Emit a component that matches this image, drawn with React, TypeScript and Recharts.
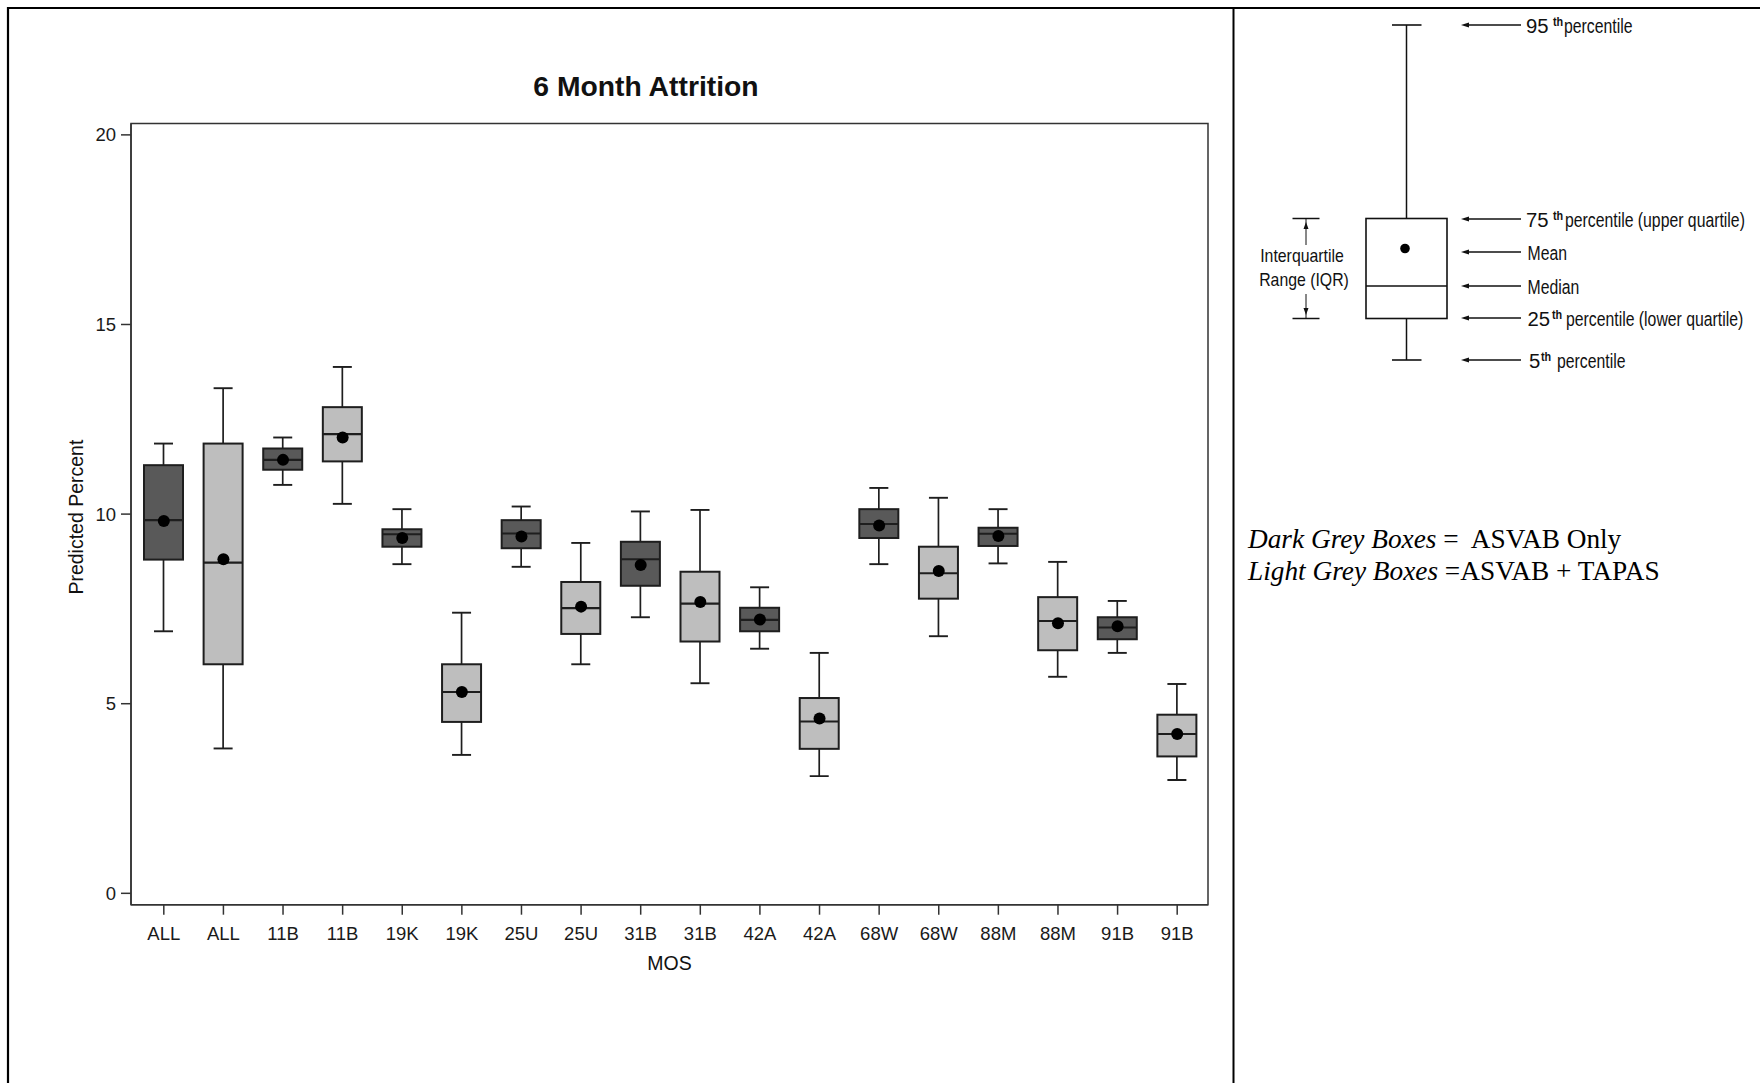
import React from 'react';
import { ComposedChart, Bar, Scatter, XAxis, YAxis, ReferenceArea } from 'recharts';

// MOS categories: each MOS appears twice (ASVAB only, then ASVAB + TAPAS)
const mosCodes = ['ALL', 'ALL', '11B', '11B', '19K', '19K', '25U', '25U', '31B', '31B', '42A', '42A', '68W', '68W', '88M', '88M', '91B', '91B'];
const scoreSets = ['ASVAB', 'TAPAS', 'ASVAB', 'TAPAS', 'ASVAB', 'TAPAS', 'ASVAB', 'TAPAS', 'ASVAB', 'TAPAS', 'ASVAB', 'TAPAS', 'ASVAB', 'TAPAS', 'ASVAB', 'TAPAS', 'ASVAB', 'TAPAS'];

// Predicted 6-month attrition percent distribution
const p5Values = [6.91, 3.82, 10.77, 10.27, 8.68, 3.65, 8.61, 6.04, 7.28, 5.54, 6.45, 3.09, 8.68, 6.78, 8.70, 5.71, 6.34, 2.99];
const q1Values = [8.80, 6.04, 11.17, 11.39, 9.14, 4.52, 9.10, 6.84, 8.11, 6.64, 6.91, 3.81, 9.37, 7.77, 9.16, 6.41, 6.70, 3.61];
const medianValues = [9.84, 8.72, 11.43, 12.11, 9.47, 5.31, 9.49, 7.52, 8.81, 7.64, 7.21, 4.53, 9.74, 8.44, 9.48, 7.18, 7.01, 4.20];
const q3Values = [11.29, 11.86, 11.73, 12.82, 9.60, 6.04, 9.84, 8.21, 9.27, 8.48, 7.53, 5.15, 10.13, 9.14, 9.64, 7.81, 7.28, 4.71];
const p95Values = [11.86, 13.32, 12.02, 13.88, 10.13, 7.40, 10.20, 9.24, 10.07, 10.11, 8.07, 6.34, 10.69, 10.43, 10.13, 8.74, 7.71, 5.52];
const meanValues = [9.82, 8.81, 11.43, 12.02, 9.37, 5.31, 9.41, 7.56, 8.66, 7.68, 7.22, 4.61, 9.70, 8.50, 9.42, 7.12, 7.04, 4.20];

const yTicks = [0, 5, 10, 15, 20];
const yDomain: [number, number] = [-0.3, 20.3];

const DARK_FILL = '#595959';
const LIGHT_FILL = '#bebebe';
const INK = '#1e1e1e';
const AXIS = '#333333';
const SANS = 'Liberation Sans, Arial, Helvetica, sans-serif';
const SERIF = 'Liberation Serif, Times New Roman, serif';

const rows = mosCodes.map((code, i) => ({
  key: `${code}-${scoreSets[i]}`,
  code,
  set: scoreSets[i],
  p5: p5Values[i],
  q1: q1Values[i],
  median: medianValues[i],
  q3: q3Values[i],
  p95: p95Values[i],
  mean: meanValues[i],
  whisker: [p5Values[i], p95Values[i]],
}));

// Whiskers, box and median of one distribution; the bar's own extent spans p5..p95
function BoxShape(props: any) {
  const { x, y, width, height, payload } = props;
  if (!payload || x == null || y == null) return null;
  const top = Math.min(y, y + height);
  const bottom = Math.max(y, y + height);
  const span = payload.p95 - payload.p5;
  const k = span > 0 ? (bottom - top) / span : 0;
  const toY = (v: number) => top + (payload.p95 - v) * k;
  const cx = x + width / 2;
  const cap = 19;
  const yQ3 = toY(payload.q3);
  const yQ1 = toY(payload.q1);
  const yMed = toY(payload.median);
  const fill = payload.set === 'ASVAB' ? DARK_FILL : LIGHT_FILL;
  return (
    <g>
      <line x1={cx} x2={cx} y1={top} y2={yQ3} stroke={INK} strokeWidth={1.7} />
      <line x1={cx} x2={cx} y1={yQ1} y2={bottom} stroke={INK} strokeWidth={1.7} />
      <line x1={cx - cap / 2} x2={cx + cap / 2} y1={top} y2={top} stroke={INK} strokeWidth={1.9} />
      <line x1={cx - cap / 2} x2={cx + cap / 2} y1={bottom} y2={bottom} stroke={INK} strokeWidth={1.9} />
      <rect x={x} y={yQ3} width={width} height={Math.max(0, yQ1 - yQ3)} fill={fill} stroke={INK} strokeWidth={2} />
      <line x1={x} x2={x + width} y1={yMed} y2={yMed} stroke={INK} strokeWidth={2.1} />
    </g>
  );
}

function MeanDot(props: any) {
  const { cx, cy } = props;
  if (cx == null || cy == null) return null;
  return <circle cx={cx} cy={cy} r={6} fill="#000" />;
}

function YTitle(props: any) {
  const vb = props.viewBox || {};
  const x = (vb.x ?? 0) + 12;
  const y = (vb.y ?? 0) + (vb.height ?? 0) / 2 + 3;
  return (
    <text x={x} y={y} transform={`rotate(-90 ${x} ${y})`} textAnchor="middle" fontFamily={SANS} fontSize={19.5} fill="#111">
      Predicted Percent
    </text>
  );
}

function XTitle(props: any) {
  const vb = props.viewBox || {};
  const x = (vb.x ?? 0) + (vb.width ?? 0) / 2;
  const y = (vb.y ?? 0) + 65;
  return (
    <text x={x} y={y} textAnchor="middle" fontFamily={SANS} fontSize={19.5} fill="#111">
      MOS
    </text>
  );
}

// Narrow label text: a regular sans face squeezed horizontally
function NarrowText({ x, y, size = 19.5, squeeze = 0.81, anchor = 'start', weight = 'normal', children }: any) {
  return (
    <text
      transform={`translate(${x} ${y}) scale(${squeeze} 1)`}
      x={0}
      y={0}
      textAnchor={anchor}
      fontFamily={SANS}
      fontSize={size}
      fontWeight={weight}
      fill="#111"
    >
      {children}
    </text>
  );
}

// Explanatory key showing how a box plot is read
const keyRows = [
  { y: 25, num: '95', numX: 1526, thX: 1553, rest: 'percentile', restX: 1564 },
  { y: 219, num: '75', numX: 1526, thX: 1553, rest: 'percentile (upper quartile)', restX: 1565 },
  { y: 252, num: '', numX: 0, thX: 0, rest: 'Mean', restX: 1527.5 },
  { y: 286, num: '', numX: 0, thX: 0, rest: 'Median', restX: 1527.5 },
  { y: 318, num: '25', numX: 1527.5, thX: 1552, rest: 'percentile (lower quartile)', restX: 1566 },
  { y: 360, num: '5', numX: 1529, thX: 1541, rest: 'percentile', restX: 1557 },
];

function KeyPanel() {
  const wx = 1406.5;
  const boxL = 1366;
  const boxR = 1447;
  const boxT = 218.5;
  const boxB = 318.5;
  return (
    <g fill="#111" stroke="none">
      <line x1={wx} x2={wx} y1={25} y2={boxT} stroke="#111" strokeWidth={1.5} />
      <line x1={wx} x2={wx} y1={boxB} y2={360} stroke="#111" strokeWidth={1.5} />
      <line x1={1392} x2={1421.5} y1={25} y2={25} stroke="#111" strokeWidth={1.6} />
      <line x1={1392} x2={1421.5} y1={360} y2={360} stroke="#111" strokeWidth={1.6} />
      <rect x={boxL} y={boxT} width={boxR - boxL} height={boxB - boxT} fill="#fff" stroke="#111" strokeWidth={1.6} />
      <line x1={boxL} x2={boxR} y1={286} y2={286} stroke="#111" strokeWidth={1.5} />
      <circle cx={1405} cy={248.5} r={4.8} fill="#000" />

      {/* IQR bracket */}
      <line x1={1292.5} x2={1319.5} y1={boxT} y2={boxT} stroke="#111" strokeWidth={1.5} />
      <line x1={1292.5} x2={1319.5} y1={boxB} y2={boxB} stroke="#111" strokeWidth={1.5} />
      <line x1={1306} x2={1306} y1={boxT} y2={245} stroke="#111" strokeWidth={1} />
      <line x1={1306} x2={1306} y1={294} y2={boxB} stroke="#111" strokeWidth={1} />
      <polygon points="1306,222 1303.5,229 1308.5,229" fill="#111" />
      <polygon points="1306,315 1303.5,308 1308.5,308" fill="#111" />
      <NarrowText x={1302} y={262} size={18} squeeze={0.88} anchor="middle">Interquartile</NarrowText>
      <NarrowText x={1304} y={286} size={18} squeeze={0.88} anchor="middle">Range (IQR)</NarrowText>

      {keyRows.map((r) => (
        <g key={r.rest + r.y}>
          <line x1={1466} x2={1521} y1={r.y} y2={r.y} stroke="#111" strokeWidth={1.3} />
          <polygon points={`1461,${r.y} 1469,${r.y - 2.6} 1469,${r.y + 2.6}`} fill="#111" />
          {r.num ? (
            <>
              <NarrowText x={r.numX} y={r.y + 7.5} squeeze={1.04}>{r.num}</NarrowText>
              <NarrowText x={r.thX} y={r.y + 0.5} size={12} squeeze={0.9} weight="bold">th</NarrowText>
            </>
          ) : null}
          <NarrowText x={r.restX} y={r.y + 7.5}>{r.rest}</NarrowText>
        </g>
      ))}

      {/* Fill colour key */}
      <text x={1248} y={548} fontFamily={SERIF} fontSize={27.3} fill="#000" style={{ whiteSpace: 'pre' }}>
        <tspan fontStyle="italic">Dark Grey Boxes</tspan>
        <tspan>{' =  ASVAB Only'}</tspan>
      </text>
      <text x={1248} y={580} fontFamily={SERIF} fontSize={27.3} fill="#000" style={{ whiteSpace: 'pre' }}>
        <tspan fontStyle="italic">Light Grey Boxes</tspan>
        <tspan>{' =ASVAB + TAPAS'}</tspan>
      </text>
    </g>
  );
}

export default function App() {
  return (
    <div style={{ position: 'absolute', left: 0, top: 0, width: 1760, height: 1083, background: '#fff', overflow: 'hidden' }}>
      <svg width={1760} height={1083} style={{ position: 'absolute', left: 0, top: 0 }}>
        {/* page frame and panel divider */}
        <line x1={7} x2={1760} y1={8} y2={8} stroke="#000" strokeWidth={2.2} />
        <line x1={8} x2={8} y1={7} y2={1083} stroke="#000" strokeWidth={2.2} />
        <line x1={1233.5} x2={1233.5} y1={7} y2={1083} stroke="#000" strokeWidth={2} />
        <text x={646} y={96} textAnchor="middle" fontFamily={SANS} fontWeight="bold" fontSize={28.3} fill="#111">
          6 Month Attrition
        </text>
        <KeyPanel />
      </svg>
      <div style={{ position: 'absolute', left: 0, top: 0 }}>
        <ComposedChart
          width={1233}
          height={1083}
          data={rows}
          margin={{ top: 123.5, right: 25, bottom: 118.3, left: 71 }}
        >
          <XAxis
            dataKey="key"
            interval={0}
            height={60}
            padding={{ left: 3, right: 1 }}
            tickSize={10}
            tickMargin={12}
            tickLine={{ stroke: AXIS, strokeWidth: 1.5 }}
            axisLine={{ stroke: AXIS, strokeWidth: 1.5 }}
            tick={{ fontFamily: SANS, fontSize: 18.5, fill: '#1a1a1a' }}
            tickFormatter={(_v: any, i: number) => mosCodes[i]}
            label={<XTitle />}
          />
          {/* unpadded copy of the category axis, used only to span the plot frame */}
          <XAxis xAxisId="frame" dataKey="key" hide />
          <YAxis
            type="number"
            domain={yDomain}
            ticks={yTicks}
            allowDataOverflow
            width={60}
            tickSize={10}
            tickMargin={5}
            tickLine={{ stroke: AXIS, strokeWidth: 1.5 }}
            axisLine={{ stroke: AXIS, strokeWidth: 1.5 }}
            tick={{ fontFamily: SANS, fontSize: 18.5, fill: '#1a1a1a' }}
            label={<YTitle />}
          />
          <ReferenceArea
            xAxisId="frame"
            y1={yDomain[0]}
            y2={yDomain[1]}
            fill="none"
            stroke={AXIS}
            strokeWidth={1.5}
            ifOverflow="visible"
          />
          <Bar dataKey="whisker" barSize={39} shape={<BoxShape />} isAnimationActive={false} />
          <Scatter dataKey="mean" shape={<MeanDot />} isAnimationActive={false} />
        </ComposedChart>
      </div>
    </div>
  );
}
